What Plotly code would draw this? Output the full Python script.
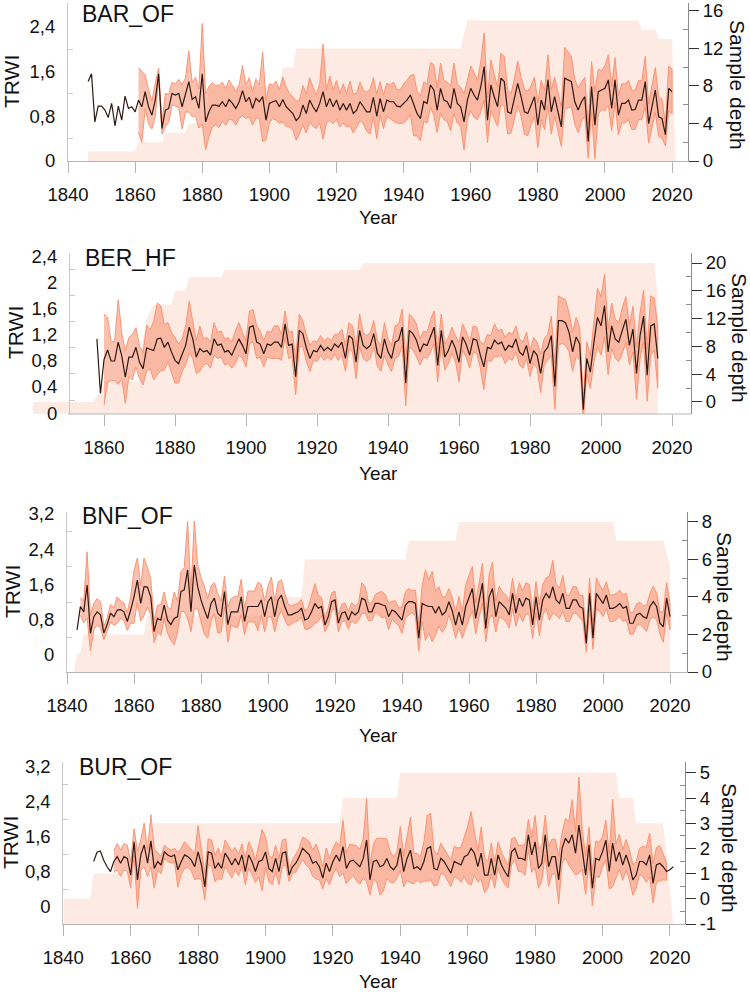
import plotly.graph_objects as go

# ---------------- DATA ----------------
# Panel 1: BAR_OF
BAR_YEAR0 = 1846
BAR_MEAN = [1.42, 1.56, 0.70, 0.98, 0.98, 0.91, 0.78, 1.03, 0.63, 0.98, 0.73, 1.16, 0.94, 0.97, 0.88,
            1.09, 0.97, 1.24, 0.97, 0.82, 1.09, 1.56, 0.58, 0.91, 0.94,
            1.21, 1.18, 1.21, 0.97, 1.18, 1.42, 1.10, 1.15, 0.94, 1.56,
            0.70, 0.88, 1.00, 1.00, 0.98, 1.06, 0.97, 1.10, 1.03, 0.94,
            1.06, 1.26, 1.06, 1.14, 0.94, 1.12, 1.06, 1.15, 0.73, 1.03,
            1.06, 1.08, 0.97, 1.10, 0.97, 0.91, 0.85, 0.72, 0.79, 1.00,
            0.85, 1.09, 0.97, 0.88, 1.03, 1.24, 0.97, 1.12, 0.97, 1.09,
            0.91, 1.03, 0.91, 1.03, 0.85, 0.91, 1.06, 0.97, 0.88, 0.88,
            1.14, 0.80, 1.12, 0.88, 1.09, 1.06, 1.06, 0.98, 0.97, 1.03,
            1.09, 1.18, 1.00, 0.85, 0.76, 1.06, 1.03, 1.36, 1.27, 0.91,
            1.30, 1.09, 1.06, 0.94, 1.30, 1.03, 0.97, 0.70, 1.09, 1.30,
            1.18, 1.09, 1.33, 1.69, 0.73, 1.36, 1.15, 0.97, 1.48, 1.42,
            0.88, 0.85, 1.12, 1.39, 1.15, 0.88, 0.85, 1.00, 1.15, 0.64,
            1.09, 0.91, 1.45, 0.88, 1.15, 0.88, 0.61, 1.48, 1.45, 1.42,
            1.06, 0.91, 1.06, 1.15, 0.35, 1.33, 0.64, 1.24, 1.27, 1.30,
            1.45, 0.94, 1.45, 0.82, 1.03, 1.03, 1.09, 0.91, 0.92, 1.09,
            1.09, 1.42, 0.67, 0.97, 1.27, 0.79, 0.76, 0.47, 1.30, 1.24]
BAR_SD_YEAR0 = 1861
BAR_SD = [0.58, 0.64, 0.30, 0.30, 0.25, 0.30, 0.10, 0.10, 0.30, 0.25,
          0.20, 0.20, 0.25, 0.40, 0.30, 0.55, 0.30, 0.35, 0.35, 0.90,
          0.50, 0.45, 0.40, 0.35, 0.38, 0.35, 0.33, 0.35, 0.30, 0.30,
          0.30, 0.45, 0.30, 0.35, 0.30, 0.35, 0.30, 0.80, 0.35, 0.35,
          0.30, 0.35, 0.30, 0.40, 0.35, 0.30, 0.30, 0.35, 0.30, 0.35,
          0.35, 0.40, 0.35, 0.30, 0.35, 0.85, 0.30, 0.40, 0.30, 0.35,
          0.30, 0.35, 0.30, 0.40, 0.35, 0.30, 0.35, 0.30, 0.35, 0.40,
          0.35, 0.40, 0.30, 0.30, 0.30, 0.30, 0.35, 0.30, 0.30, 0.35,
          0.35, 0.35, 0.55, 0.40, 0.40, 0.35, 0.35, 0.40, 0.45, 0.40,
          0.45, 0.35, 0.35, 0.40, 0.45, 0.35, 0.35, 0.50, 0.35, 0.40,
          0.40, 0.35, 0.45, 0.60, 0.40, 0.45, 0.40, 0.35, 0.45, 0.45,
          0.40, 0.35, 0.35, 0.40, 0.35, 0.40, 0.40, 0.35, 0.35, 0.40,
          0.35, 0.35, 0.45, 0.40, 0.35, 0.35, 0.35, 0.55, 0.50, 0.45,
          0.40, 0.40, 0.35, 0.35, 0.30, 0.45, 0.60, 0.40, 0.35, 0.40,
          0.45, 0.40, 0.40, 0.35, 0.35, 0.35, 0.35, 0.35, 0.35, 0.35,
          0.35, 0.45, 0.35, 0.35, 0.40, 0.35, 0.35, 0.20, 0.40, 0.40]
BAR_DEPTH_X = [1846, 1860, 1861, 1868, 1869, 1875, 1876, 1881, 1882, 1903, 1904, 1907, 1908,
               1957, 1959, 2010, 2011, 2015, 2016, 2020, 2021]
BAR_DEPTH_Y = [1, 1, 2, 2, 3, 3, 4, 4, 8, 8, 10, 10, 12, 12, 15, 15, 14, 14, 13, 13, 0]

# Panel 2: BER_HF
BER_YEAR0 = 1858
BER_MEAN = [1.14, 0.30,
            0.82, 0.97, 0.80, 0.80, 1.09, 0.88, 0.55, 0.86, 0.86, 1.01,
            0.78, 0.68, 1.00, 0.98, 0.96, 1.14, 1.15, 1.01, 1.09, 0.94,
            0.81, 0.76, 0.89, 1.04, 1.32, 1.14, 0.86, 0.99, 0.94, 0.96,
            0.89, 1.14, 1.04, 1.06, 0.94, 0.96, 0.89, 1.01, 1.14, 1.04,
            0.91, 1.32, 1.34, 1.09, 1.06, 0.91, 1.06, 1.04, 1.09, 1.09,
            1.01, 1.37, 1.04, 1.06, 0.56, 1.27, 1.22, 1.00, 0.84, 0.96,
            0.94, 1.04, 0.96, 1.01, 0.96, 1.06, 1.01, 1.09, 0.84, 1.19,
            1.14, 0.78, 1.27, 1.04, 0.99, 1.04, 1.22, 0.92, 0.84, 1.14,
            0.94, 0.84, 1.09, 1.12, 1.32, 0.46, 1.27, 1.22, 1.12, 0.94,
            1.06, 1.04, 1.19, 1.32, 0.73, 1.27, 0.86, 0.96, 1.12, 0.99,
            0.78, 1.17, 1.06, 0.89, 1.14, 1.12, 0.89, 0.71, 1.01, 0.99,
            1.12, 1.06, 1.09, 0.96, 1.04, 1.01, 1.14, 0.94, 0.89, 1.04,
            0.76, 0.96, 0.89, 0.61, 0.94, 1.01, 1.19, 0.41, 1.42, 1.42,
            1.39, 1.24, 0.94, 1.17, 1.06, 0.05, 0.84, 0.63, 1.09, 1.47,
            1.34, 1.65, 0.94, 1.34, 1.14, 1.09, 1.27, 1.44, 1.04, 1.29,
            0.61, 1.19, 1.49, 0.58, 1.34, 1.37, 0.84]
BER_SD_YEAR0 = 1860
BER_SD = [0.70, 0.50, 0.30, 0.30, 0.65, 0.35, 0.40, 0.30, 0.35, 0.30,
          0.25, 0.25, 0.35, 0.30, 0.45, 0.55, 0.50, 0.35, 0.30, 0.30,
          0.35, 0.30, 0.25, 0.30, 0.40, 0.30, 0.25, 0.35, 0.20, 0.20,
          0.20, 0.25, 0.20, 0.20, 0.20, 0.20, 0.20, 0.25, 0.25, 0.20,
          0.20, 0.25, 0.25, 0.25, 0.20, 0.20, 0.20, 0.20, 0.25, 0.25,
          0.20, 0.20, 0.20, 0.20, 0.28, 0.25, 0.20, 0.20, 0.20, 0.15,
          0.15, 0.15, 0.15, 0.15, 0.15, 0.15, 0.20, 0.20, 0.20, 0.20,
          0.20, 0.25, 0.25, 0.20, 0.20, 0.20, 0.20, 0.20, 0.20, 0.25,
          0.20, 0.20, 0.25, 0.25, 0.28, 0.35, 0.25, 0.25, 0.25, 0.20,
          0.20, 0.20, 0.25, 0.25, 0.25, 0.25, 0.20, 0.20, 0.20, 0.20,
          0.30, 0.20, 0.20, 0.20, 0.20, 0.20, 0.20, 0.35, 0.20, 0.20,
          0.25, 0.20, 0.20, 0.20, 0.20, 0.20, 0.20, 0.20, 0.20, 0.20,
          0.20, 0.20, 0.20, 0.30, 0.20, 0.20, 0.30, 0.35, 0.38, 0.35,
          0.35, 0.30, 0.30, 0.30, 0.25, 0.15, 0.25, 0.25, 0.30, 0.45,
          0.45, 0.48, 0.35, 0.35, 0.30, 0.30, 0.35, 0.35, 0.30, 0.35,
          0.40, 0.35, 0.40, 0.40, 0.46, 0.40, 0.46]
BER_DEPTH_X = [1840, 1857, 1858, 1859, 1860, 1870, 1871, 1872, 1873, 1874, 1879, 1880, 1883,
               1884, 1893, 1894, 1932, 1933, 2015, 2016]
BER_DEPTH_Y = [0, 0, 1, 1, 3, 3, 9, 12, 13, 14, 14, 16, 16, 18, 18, 19, 19, 20, 20, 15]

# Panel 3: BNF_OF
BNF_YEAR0 = 1843
BNF_MEAN = [0.57, 1.10, 0.98, 1.59, 0.49, 0.87, 0.98,
            0.91, 0.50, 0.69, 0.95, 0.87, 1.02, 1.03, 0.98, 0.76, 1.02,
            1.32, 1.70, 1.17, 1.55, 1.54, 1.32, 0.53, 0.83, 0.79, 1.13,
            0.79, 0.69, 0.83, 0.87, 1.44, 1.48, 1.93, 0.98, 2.04, 1.55,
            1.25, 1.02, 0.83, 1.17, 1.29, 0.95, 0.87, 1.44, 0.69, 0.98,
            0.98, 0.98, 1.32, 0.76, 1.10, 1.10, 1.10, 1.10, 1.25, 0.87,
            1.21, 1.32, 0.87, 1.25, 1.36, 1.10, 0.91, 0.91, 0.95, 0.98,
            1.06, 0.79, 0.83, 0.98, 1.17, 1.06, 1.10, 0.68, 0.87, 1.21,
            1.25, 0.72, 0.95, 0.98, 0.79, 0.98, 0.91, 0.98, 1.29, 1.25,
            0.98, 0.98, 1.17, 1.17, 1.14, 1.12, 0.87, 1.02, 0.98, 0.87,
            0.79, 1.13, 1.21, 1.21, 1.17, 0.38, 1.17, 1.13, 1.10, 1.10,
            0.95, 1.10, 0.91, 0.98, 1.21, 1.00, 0.68, 0.98, 0.68, 1.10,
            1.32, 1.51, 0.83, 1.25, 1.63, 0.60, 1.32, 1.51, 0.87, 1.21,
            1.13, 1.06, 0.91, 1.40, 0.95, 1.29, 1.10, 1.29, 1.25, 0.68,
            1.32, 0.79, 1.25, 1.40, 1.29, 1.55, 1.25, 1.17, 1.40, 1.06,
            1.06, 1.25, 1.25, 1.10, 1.06, 0.26, 1.40, 0.38, 1.40, 1.29,
            1.17, 1.36, 1.06, 1.06, 1.10, 1.17, 1.06, 1.10, 0.72, 0.72,
            0.91, 0.95, 0.87, 0.83, 1.10, 1.21, 1.10, 0.72, 0.64, 1.29,
            0.87]
BNF_SD_YEAR0 = 1844
BNF_SD = [0.20, 0.25, 0.75, 0.40, 0.30, 0.30,
          0.30, 0.15, 0.15, 0.20, 0.20, 0.30, 0.20, 0.20, 0.20, 0.30,
          0.60, 0.50, 0.40, 0.65, 0.45, 0.40, 0.25, 0.30, 0.35, 0.30,
          0.30, 0.35, 0.60, 0.35, 0.45, 0.50, 1.10, 0.45, 1.00, 0.50,
          0.50, 0.55, 0.45, 0.40, 0.35, 0.45, 0.35, 0.35, 0.40, 0.30,
          0.35, 0.35, 0.40, 0.30, 0.35, 0.35, 0.35, 0.55, 0.35, 0.35,
          0.35, 0.45, 0.35, 0.40, 0.35, 0.30, 0.25, 0.20, 0.20, 0.20,
          0.20, 0.20, 0.25, 0.35, 0.45, 0.30, 0.20, 0.15, 0.20, 0.20,
          0.20, 0.20, 0.20, 0.20, 0.20, 0.20, 0.20, 0.20, 0.35, 0.30,
          0.20, 0.20, 0.20, 0.25, 0.30, 0.25, 0.30, 0.20, 0.25, 0.20,
          0.30, 0.30, 0.30, 0.25, 0.30, 0.30, 0.40, 0.80, 0.60, 0.80,
          0.50, 0.45, 0.40, 0.35, 0.30, 0.30, 0.30, 0.35, 0.30, 0.50,
          0.50, 0.50, 0.35, 0.40, 0.45, 0.30, 0.50, 0.60, 0.35, 0.35,
          0.30, 0.30, 0.30, 0.35, 0.30, 0.35, 0.35, 0.35, 0.35, 0.30,
          0.35, 0.35, 0.35, 0.35, 0.50, 0.60, 0.35, 0.35, 0.40, 0.30,
          0.30, 0.30, 0.30, 0.25, 0.30, 0.20, 0.35, 0.25, 0.35, 0.30,
          0.30, 0.30, 0.30, 0.30, 0.30, 0.30, 0.30, 0.30, 0.25, 0.25,
          0.25, 0.25, 0.25, 0.30, 0.30, 0.35, 0.30, 0.25, 0.35, 0.35, 0.30]
BNF_DEPTH_X = [1842, 1843, 1844, 1845, 1863, 1864, 1901, 1902, 1910, 1911, 1941, 1942, 1956,
               1957, 2003, 2004, 2018, 2020]
BNF_DEPTH_Y = [0, 1, 1, 2, 2, 3, 3, 4, 4, 6, 6, 7, 7, 8, 8, 7, 7, 5.6]

# Panel 4: BUR_OF
BUR_YEAR0 = 1849
BUR_MEAN = [1.04,
            1.25, 1.28, 1.07, 0.92, 0.81, 1.04, 1.15, 1.00, 1.15, 1.11,
            0.73, 1.49, 0.62, 1.19, 1.42, 1.00, 1.51, 0.88, 1.04, 0.96,
            1.26, 1.19, 1.15, 1.19, 0.85, 1.04, 1.19, 1.15, 1.07, 0.92,
            1.26, 0.96, 0.46, 1.26, 1.23, 0.88, 1.00, 0.88, 1.23, 1.11,
            0.96, 1.11, 0.96, 1.19, 0.81, 1.19, 1.04, 0.81, 1.04, 1.07,
            1.26, 0.88, 0.81, 1.11, 0.81, 1.23, 1.26, 0.73, 0.92, 1.00,
            1.15, 1.34, 1.26, 1.19, 1.00, 1.04, 0.92, 0.66, 1.00, 0.81,
            1.04, 1.19, 1.04, 1.38, 0.88, 1.04, 1.07, 1.00, 0.92, 1.11,
            1.53, 0.62, 1.04, 1.07, 0.92, 0.96, 1.11, 0.92, 0.85, 0.96,
            1.34, 0.81, 1.11, 1.30, 0.88, 0.92, 0.85, 1.04, 1.34, 1.38,
            0.88, 0.85, 1.11, 1.04, 0.92, 0.77, 1.04, 1.00, 0.96, 1.15,
            1.19, 1.34, 1.23, 0.92, 1.23, 0.73, 0.73, 1.11, 0.73, 1.19,
            0.96, 0.81, 0.69, 1.26, 1.34, 1.11, 1.11, 1.07, 1.65, 1.19,
            1.49, 0.88, 1.00, 1.65, 0.92, 1.15, 1.15, 0.62, 1.34, 1.57,
            1.46, 1.65, 1.23, 1.87, 1.30, 0.73, 1.42, 0.43, 1.11, 1.07,
            1.26, 1.53, 0.81, 1.46, 1.04, 1.26, 0.96, 1.19, 0.96, 0.62,
            0.73, 1.04, 1.04, 0.96, 1.19, 0.54, 0.96, 1.00, 0.92, 0.81,
            0.85, 0.92]
BUR_SD_YEAR0 = 1855
BUR_SD = [0.25, 0.30, 0.30, 0.30, 0.30,
          0.30, 0.30, 0.65, 0.35, 0.50, 0.30, 0.60, 0.45, 0.20, 0.20,
          0.15, 0.15, 0.15, 0.15, 0.40, 0.30, 0.30, 0.25, 0.25, 0.30,
          0.60, 0.35, 0.30, 0.30, 0.30, 0.30, 0.35, 0.25, 0.30, 0.30,
          0.30, 0.25, 0.25, 0.25, 0.30, 0.30, 0.30, 0.25, 0.35, 0.70,
          0.35, 0.30, 0.30, 0.30, 0.30, 0.30, 0.30, 0.15, 0.15, 0.20,
          0.20, 0.25, 0.30, 0.30, 0.30, 0.40, 0.30, 0.25, 0.35, 0.30,
          0.30, 0.30, 0.35, 0.60, 0.35, 0.40, 0.35, 0.40, 0.40, 0.45,
          0.95, 0.35, 0.40, 0.50, 0.65, 0.60, 0.45, 0.35, 0.30, 0.30,
          0.50, 0.35, 0.50, 0.75, 0.35, 0.30, 0.30, 0.45, 0.75, 0.76,
          0.40, 0.35, 0.35, 0.30, 0.30, 0.30, 0.35, 0.35, 0.40, 0.45,
          0.65, 0.84, 0.50, 0.35, 0.60, 0.40, 0.30, 0.35, 0.30, 0.30,
          0.30, 0.30, 0.25, 0.30, 0.25, 0.30, 0.30, 0.35, 0.35, 0.40,
          0.60, 0.45, 0.40, 0.45, 0.45, 0.40, 0.40, 0.55, 0.35, 0.45,
          0.50, 0.80, 0.50, 1.10, 0.45, 0.45, 0.40, 0.40, 0.40, 0.40,
          0.35, 0.45, 0.40, 1.00, 0.40, 0.40, 0.35, 0.35, 0.35, 0.35,
          0.30, 0.30, 0.35, 0.40, 0.50, 0.45, 0.40, 0.40, 0.30, 0.20]
BUR_DEPTH_X = [1840, 1848, 1849, 1866, 1867, 1922, 1923, 1939, 1940, 2004, 2005, 2009, 2010,
               2018, 2021]
BUR_DEPTH_Y = [0, 0, 1, 1, 3, 3, 4, 4, 5, 5, 4, 4, 3, 3, -1]

SITE_NAMES = ["BAR_OF", "BER_HF", "BNF_OF", "BUR_OF"]
YEAR_TICKS = [1840, 1860, 1880, 1900, 1920, 1940, 1960, 1980, 2000, 2020]

# ---------------- STYLE / LAYOUT ----------------
W, H = 750, 992
FONT = "Liberation Sans, Arial, sans-serif"
DEPTH_FILL = "#FDEAE2"
BAND_FILL = "rgba(248,136,102,0.52)"
BAND_LINE = "#FC9373"
MEAN_LINE = "#2f1812"
AXIS_GREY = "#b5b5b5"


def px_x(px):
    return px / W


def px_y(py):
    return 1 - py / H


panels = [
    dict(mean=BAR_MEAN, y0=BAR_YEAR0, sd=BAR_SD, sy0=BAR_SD_YEAR0, dx=BAR_DEPTH_X, dy=BAR_DEPTH_Y,
         xdom=(68, 688), ydom=(3, 161), xr=(1840, 2024.74), yl=(0, 2.826), yr=(0, 16.85),
         ltv=[0, 0.8, 1.6, 2.4], ltt=["0", "0,8", "1,6", "2,4"], lminor=[0.4, 1.2, 2.0],
         rtv=[0, 4, 8, 12, 16], rminor=[2, 6, 10, 14], ytitle_pos=None,
         xticks=YEAR_TICKS, title_xy=(80, 14), trwi_xy=(12, 82), sd_xy=(738, 85), year_y=218),
    dict(mean=BER_MEAN, y0=BER_YEAR0, sd=BER_SD, sy0=BER_SD_YEAR0, dx=BER_DEPTH_X, dy=BER_DEPTH_Y,
         xdom=(33, 691), ydom=(253, 414), xr=(1840, 2025.35), yl=(-0.015, 2.46), yr=(-1.73, 21.44),
         ltv=[0, 0.4, 0.8, 1.2, 1.6, 2.0, 2.4], ltt=["0", "0,4", "0,8", "1,2", "1,6", "2", "2,4"],
         lminor=[0.2, 0.6, 1.0, 1.4, 1.8, 2.2],
         rtv=[0, 4, 8, 12, 16, 20], rminor=[2, 6, 10, 14, 18], ytitle_pos=69,
         xticks=YEAR_TICKS[1:], title_xy=(83, 258), trwi_xy=(15, 333), sd_xy=(740, 338), year_y=473),
    dict(mean=BNF_MEAN, y0=BNF_YEAR0, sd=BNF_SD, sy0=BNF_SD_YEAR0, dx=BNF_DEPTH_X, dy=BNF_DEPTH_Y,
         xdom=(67, 687), ydom=(512, 672), xr=(1840, 2025.07), yl=(-0.386, 3.245), yr=(0, 8.53),
         ltv=[0, 0.8, 1.6, 2.4, 3.2], ltt=["0", "0,8", "1,6", "2,4", "3,2"], lminor=[0.4, 1.2, 2.0, 2.8],
         rtv=[0, 2, 4, 6, 8], rminor=[1, 3, 5, 7], ytitle_pos=None,
         xticks=YEAR_TICKS, title_xy=(80, 516), trwi_xy=(12, 592), sd_xy=(725, 597), year_y=735),
    dict(mean=BUR_MEAN, y0=BUR_YEAR0, sd=BUR_SD, sy0=BUR_SD_YEAR0, dx=BUR_DEPTH_X, dy=BUR_DEPTH_Y,
         xdom=(63.3, 685), ydom=(762, 924), xr=(1840, 2024.48), yl=(-0.389, 3.314), yr=(-1, 5.43),
         ltv=[0, 0.8, 1.6, 2.4, 3.2], ltt=["0", "0,8", "1,6", "2,4", "3,2"], lminor=[0.4, 1.2, 2.0, 2.8],
         rtv=[-1, 0, 1, 2, 3, 4, 5], rminor=[-0.5, 0.5, 1.5, 2.5, 3.5, 4.5], ytitle_pos=None,
         xticks=YEAR_TICKS, title_xy=(77, 767), trwi_xy=(10, 843), sd_xy=(730, 848), year_y=981),
]

TICKFONT = dict(family=FONT, size=18.5, color="#111")

fig = go.Figure()
layout = dict(width=W, height=H, margin=dict(l=0, r=0, t=0, b=0, autoexpand=False),
              paper_bgcolor="white", plot_bgcolor="rgba(0,0,0,0)", showlegend=False,
              annotations=[], shapes=[])


def nm(prefix, n):
    return prefix if n == 1 else f"{prefix}{n}"


for i, p in enumerate(panels, start=1):
    xa = nm("x", i)
    yb = nm("y", 2 * i - 1)
    yo = nm("y", 2 * i)
    years = [p["y0"] + k for k in range(len(p["mean"]))]
    off = p["sy0"] - p["y0"]
    byears = [p["sy0"] + k for k in range(len(p["sd"]))]
    bmean = p["mean"][off:off + len(p["sd"])]
    upper = [m + s for m, s in zip(bmean, p["sd"])]
    lower = [m - s for m, s in zip(bmean, p["sd"])]

    # sample depth shading (base axis, right)
    base = p["yr"][0]
    fig.add_trace(go.Scatter(x=p["dx"] + p["dx"][::-1], y=p["dy"] + [base] * len(p["dx"]),
                             fill="toself", fillcolor=DEPTH_FILL, mode="lines",
                             line=dict(width=0, color=DEPTH_FILL), xaxis=xa, yaxis=yb,
                             hoverinfo="skip"))
    # band
    fig.add_trace(go.Scatter(x=byears + byears[::-1], y=upper + lower[::-1],
                             fill="toself", fillcolor=BAND_FILL, mode="lines",
                             line=dict(width=1, color=BAND_LINE), xaxis=xa, yaxis=yo,
                             hoverinfo="skip"))
    # mean
    fig.add_trace(go.Scatter(x=years, y=p["mean"], mode="lines",
                             line=dict(width=1.2, color=MEAN_LINE), xaxis=xa, yaxis=yo))

    xdom = [px_x(p["xdom"][0]), px_x(p["xdom"][1])]
    ydom = [px_y(p["ydom"][1]), px_y(p["ydom"][0])]

    layout[nm("xaxis", i)] = dict(
        domain=xdom, range=list(p["xr"]), anchor=yb, showline=(p["ytitle_pos"] is None),
        linecolor=AXIS_GREY, linewidth=1, ticks="outside", ticklen=11, tickcolor=AXIS_GREY,
        tickmode="array", tickvals=p["xticks"], ticktext=[str(v) for v in p["xticks"]],
        tickfont=TICKFONT, showgrid=False, zeroline=False, ticklabelstandoff=6,
        automargin=False, ticklabeloverflow="allow")

    layout[nm("yaxis", 2 * i - 1)] = dict(
        domain=ydom, range=list(p["yr"]), anchor=xa, side="right", showline=True,
        linecolor="#8c8c8c", linewidth=1, ticks="outside", ticklen=10, tickcolor="#333",
        tickmode="array", tickvals=p["rtv"], ticktext=[str(v) for v in p["rtv"]],
        tickfont=TICKFONT, showgrid=False, zeroline=False, automargin=False,
        ticklabeloverflow="allow",
        minor=dict(tickmode="array", tickvals=p["rminor"], ticks="inside", ticklen=5,
                   tickcolor="#8c8c8c", showgrid=False))

    yo_ax = dict(
        range=list(p["yl"]), overlaying=yb, side="left", showline=True,
        linecolor="#c8c8c8", linewidth=1, ticks="outside", ticklen=8,
        tickcolor="rgba(0,0,0,0)", tickmode="array", tickvals=p["ltv"], ticktext=p["ltt"],
        tickfont=TICKFONT, showgrid=False, zeroline=False, automargin=False,
        ticklabeloverflow="allow",
        minor=dict(tickmode="array", tickvals=p["lminor"], ticks="inside", ticklen=5,
                   tickcolor="#c8c8c8", showgrid=False))
    if p["ytitle_pos"] is not None:
        yo_ax["anchor"] = "free"
        yo_ax["position"] = px_x(p["ytitle_pos"])
        layout["shapes"].append(dict(type="line", xref=xa, yref=f"{yb} domain",
                                     x0=1850, x1=p["xr"][1], y0=0, y1=0,
                                     line=dict(color=AXIS_GREY, width=1)))
    else:
        yo_ax["anchor"] = xa
    layout[nm("yaxis", 2 * i)] = yo_ax

    ann = layout["annotations"]
    ann.append(dict(text=SITE_NAMES[i - 1], xref="paper", yref="paper",
                    x=px_x(p["title_xy"][0]), y=px_y(p["title_xy"][1]),
                    xanchor="left", yanchor="middle", showarrow=False,
                    font=dict(family=FONT, size=23, color="#111")))
    ann.append(dict(text="TRWI", xref="paper", yref="paper",
                    x=px_x(p["trwi_xy"][0]), y=px_y(p["trwi_xy"][1]),
                    xanchor="center", yanchor="middle", textangle=-90, showarrow=False,
                    font=dict(family=FONT, size=21, color="#111")))
    ann.append(dict(text="Sample depth", xref="paper", yref="paper",
                    x=px_x(p["sd_xy"][0]), y=px_y(p["sd_xy"][1]),
                    xanchor="center", yanchor="middle", textangle=90, showarrow=False,
                    font=dict(family=FONT, size=21, color="#111")))
    ann.append(dict(text="Year", xref="paper", yref="paper",
                    x=px_x(378), y=px_y(p["year_y"]),
                    xanchor="center", yanchor="middle", showarrow=False,
                    font=dict(family=FONT, size=19, color="#111")))

fig.update_layout(**layout)
fig.write_html("out.html")
